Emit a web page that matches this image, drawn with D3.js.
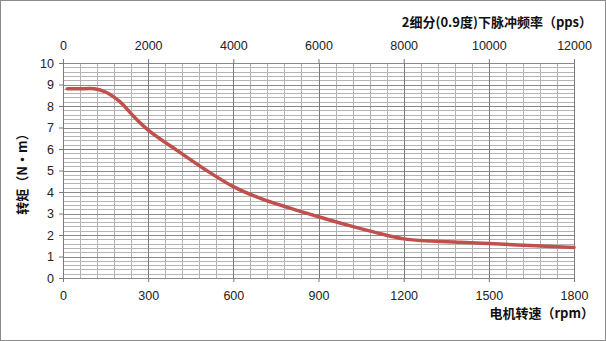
<!DOCTYPE html>
<html>
<head>
<meta charset="utf-8">
<script src="https://cdn.jsdelivr.net/npm/d3@7"></script>
<style>
  body { margin: 0; background: #fff; }
  svg { display: block; }
  .tick text { font-family: "Liberation Sans", Arial, sans-serif; font-size: 12.5px; fill: #222; }
  .title { font-family: "Noto Sans CJK SC", sans-serif; font-weight: bold; font-size: 13px; fill: #111; }
</style>
</head>
<body>
<svg width="606" height="341"></svg>
<script>
// speed (rpm) vs torque (N·m)
const rpm    = [15, 60, 110, 150, 200, 250, 300, 400, 500, 600, 700, 800, 900, 1000, 1100, 1200, 1300, 1400, 1500, 1600, 1700, 1800];
const torque = [8.8, 8.8, 8.8, 8.65, 8.2, 7.5, 6.88, 5.95, 5.05, 4.25, 3.68, 3.25, 2.85, 2.47, 2.12, 1.82, 1.72, 1.66, 1.61, 1.54, 1.48, 1.42];
const rpmTicks = [0, 300, 600, 900, 1200, 1500, 1800];
const ppsTicks = [0, 2000, 4000, 6000, 8000, 10000, 12000];
const torqueTicks = [0, 1, 2, 3, 4, 5, 6, 7, 8, 9, 10];

const svg = d3.select("svg");
const width = +svg.attr("width");
const height = +svg.attr("height");

// outer frame
svg.append("rect")
  .attr("x", 0.5).attr("y", 0.5)
  .attr("width", width - 1).attr("height", height - 1)
  .attr("fill", "#fff").attr("stroke", "#8c8c8c");

const plotL = 63, plotR = 574, plotT = 63, plotB = 278;
const x = d3.scaleLinear().domain([0, 1800]).range([plotL, plotR]);
const xTop = d3.scaleLinear().domain([0, 12000]).range([plotL, plotR]);
const y = d3.scaleLinear().domain([0, 10]).range([plotB, plotT]);

// grid: minor lines first, then major lines on top
const grid = svg.append("g").attr("shape-rendering", "crispEdges");
grid.selectAll(".hmin")
  .data(d3.range(0, 50).map(i => i / 5).filter(v => v % 1 !== 0))
  .join("line")
  .attr("x1", plotL).attr("x2", plotR)
  .attr("y1", d => Math.round(y(d)) + 0.5).attr("y2", d => Math.round(y(d)) + 0.5)
  .attr("stroke", "#b4b4b4");
grid.selectAll(".vmin")
  .data(d3.range(60, 1800, 60).filter(v => v % 300 !== 0))
  .join("line")
  .attr("x1", d => Math.round(x(d)) + 0.5).attr("x2", d => Math.round(x(d)) + 0.5)
  .attr("y1", plotT).attr("y2", plotB)
  .attr("stroke", "#b4b4b4");
grid.selectAll(".hmaj")
  .data(torqueTicks)
  .join("line")
  .attr("x1", plotL).attr("x2", plotR)
  .attr("y1", d => Math.round(y(d)) + 0.5).attr("y2", d => Math.round(y(d)) + 0.5)
  .attr("stroke", "#8a8a8a");
grid.selectAll(".vmaj")
  .data(rpmTicks)
  .join("line")
  .attr("x1", d => Math.round(x(d)) + 0.5).attr("x2", d => Math.round(x(d)) + 0.5)
  .attr("y1", plotT).attr("y2", plotB)
  .attr("stroke", "#7a7a7a");

// axes
const styleAxis = g => {
  g.select(".domain").remove();
  g.selectAll(".tick line").attr("stroke", "#7a7a7a");
};
const fmt = d3.format("d");
svg.append("g")
  .attr("transform", `translate(0,${plotB})`)
  .call(d3.axisBottom(x).tickValues(rpmTicks).tickFormat(fmt).tickSize(4).tickPadding(9))
  .call(styleAxis);
svg.append("g")
  .attr("transform", `translate(0,${plotT})`)
  .call(d3.axisTop(xTop).tickValues(ppsTicks).tickFormat(fmt).tickSize(4).tickPadding(9))
  .call(styleAxis);
svg.append("g")
  .attr("transform", `translate(${plotL},0)`)
  .call(d3.axisLeft(y).tickValues(torqueTicks).tickFormat(fmt).tickSize(4).tickPadding(5))
  .call(styleAxis);

// curve
const line = d3.line()
  .x((d, i) => x(rpm[i]))
  .y(d => y(d))
  .curve(d3.curveCatmullRom.alpha(0.5));
svg.append("path")
  .datum(torque)
  .attr("d", line)
  .attr("fill", "none")
  .attr("stroke", "#c0504d")
  .attr("stroke-width", 3.5)
  .attr("stroke-linecap", "round");

// titles
svg.append("text").attr("class", "title")
  .attr("x", 592).attr("y", 27).attr("text-anchor", "end")
  .text("2细分(0.9度)下脉冲频率（pps）");
svg.append("text").attr("class", "title")
  .attr("x", 594).attr("y", 318).attr("text-anchor", "end")
  .text("电机转速（rpm）");
svg.append("text").attr("class", "title")
  .attr("transform", "translate(27,171) rotate(-90)")
  .attr("text-anchor", "middle")
  .text("转矩（N·m）");
</script>
</body>
</html>
